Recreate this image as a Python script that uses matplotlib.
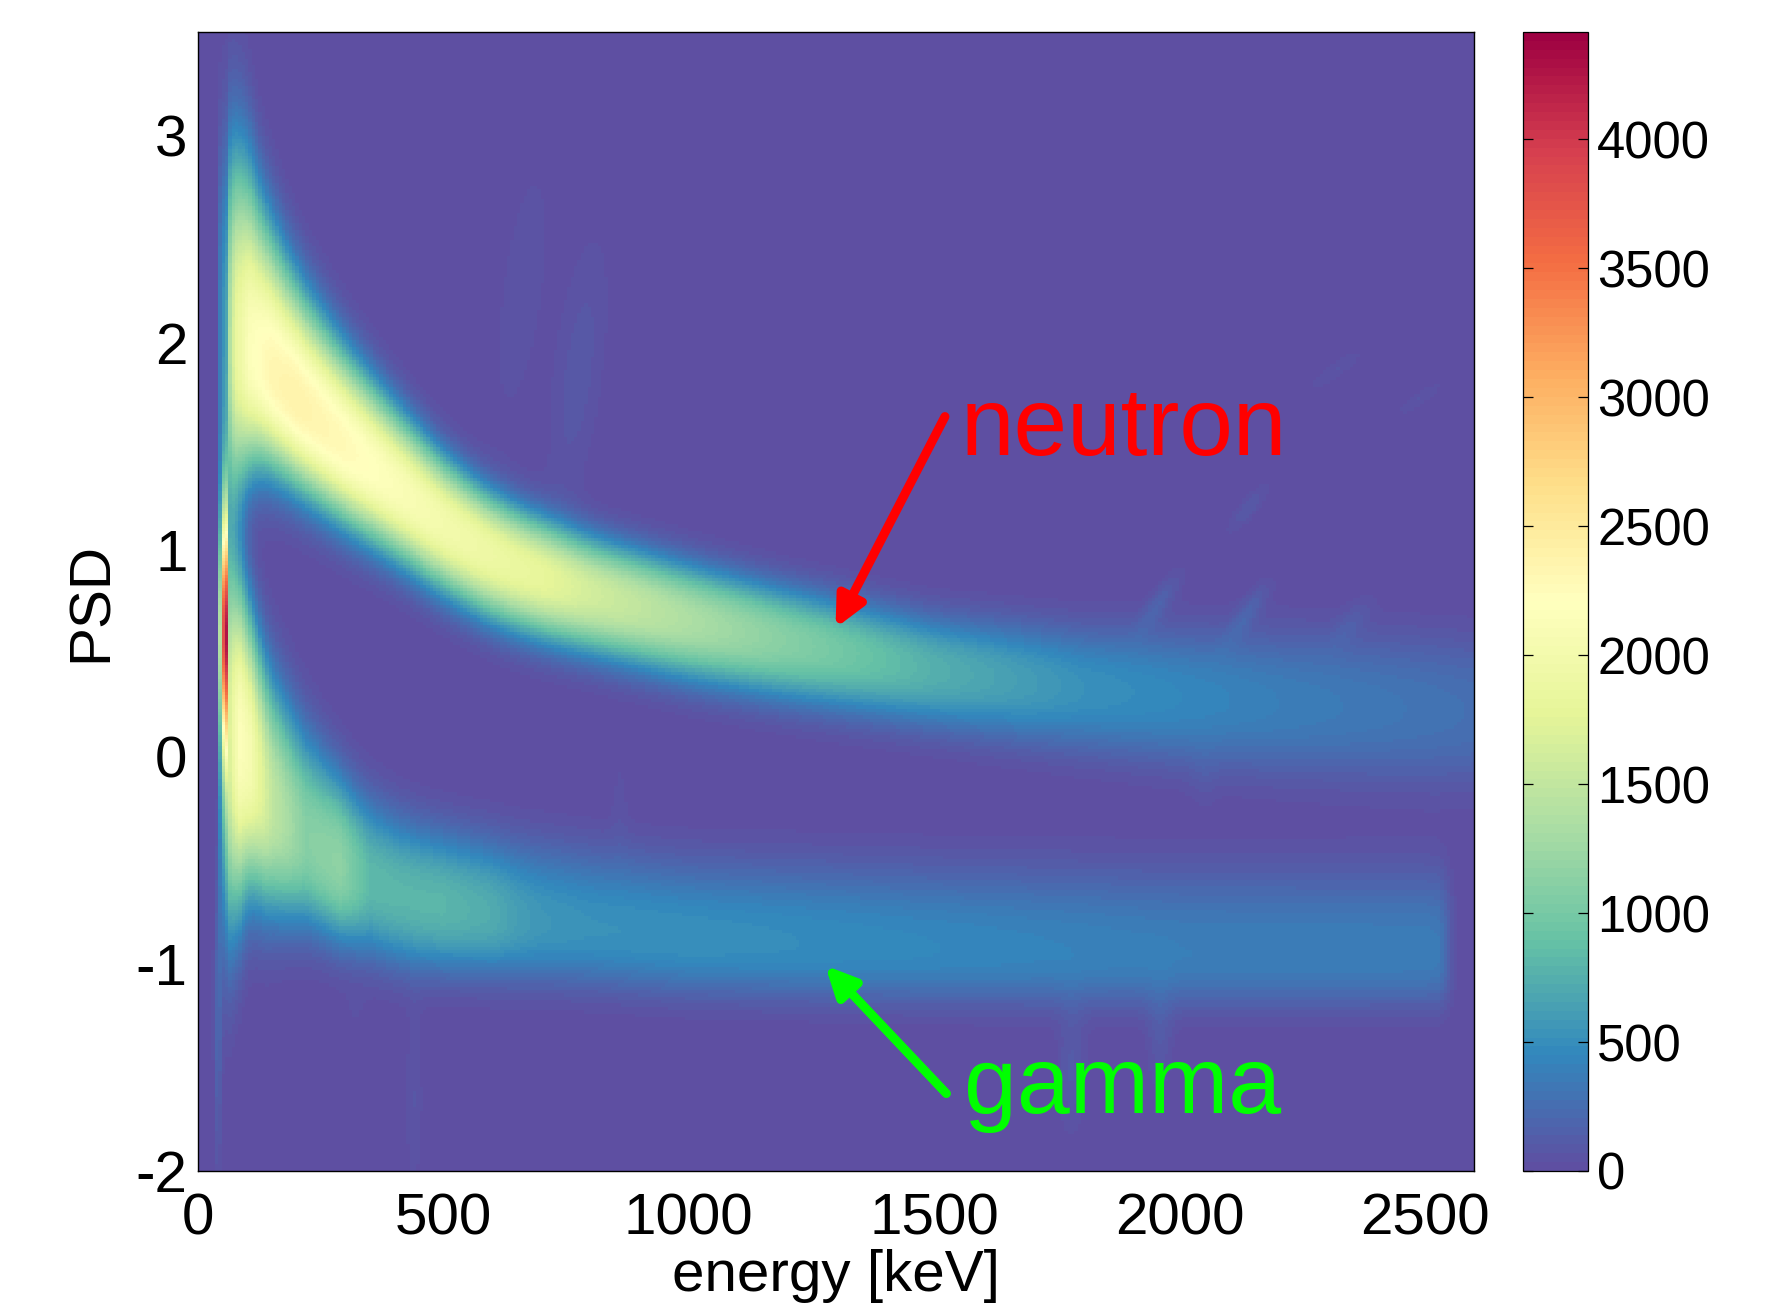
import numpy as np
import matplotlib
matplotlib.use("Agg")
import matplotlib.pyplot as plt

plt.rcParams['font.family'] = ['Liberation Sans', 'DejaVu Sans']

# Ridge readings of the two bands
n_energy = [38, 46, 58, 63, 75, 106, 150, 200, 300, 400, 500, 600, 700, 800, 1000, 1200, 1500, 1800, 2000, 2200, 2500, 2600]
n_center = [2.0, 2.0, 2.0, 2.0, 2.0, 1.95, 1.85, 1.72, 1.5, 1.31, 1.12, 0.97, 0.87, 0.79, 0.66, 0.56, 0.42, 0.33, 0.29, 0.26, 0.23, 0.22]
n_peak = [0, 450, 650, 1300, 1800, 2150, 2330, 2380, 2280, 2130, 2000, 1900, 1800, 1620, 1350, 1100, 750, 520, 450, 380, 300, 270]
n_up = [0.9, 0.9, 1.05, 1.1, 1.05, 0.78, 0.64, 0.53, 0.43, 0.36, 0.31, 0.28, 0.27, 0.26, 0.26, 0.25, 0.25, 0.28, 0.31, 0.33, 0.34, 0.34]
n_low = [0.9, 0.9, 0.9, 0.8, 0.65, 0.5, 0.44, 0.40, 0.36, 0.33, 0.31, 0.30, 0.29, 0.28, 0.28, 0.28, 0.27, 0.29, 0.31, 0.33, 0.35, 0.35]

g_energy = [38, 46, 58, 66, 85, 106, 150, 220, 290, 350, 420, 500, 600, 650, 700, 800, 1000, 1500, 2000, 2500, 2530, 2560, 2580, 2600]
g_center = [0.1, 0.1, 0.1, 0.2, 0.25, -0.05, -0.25, -0.4, -0.53, -0.6, -0.68, -0.72, -0.76, -0.78, -0.8, -0.83, -0.88, -0.93, -0.95, -0.95, -0.95, -0.95, -0.95, -0.95]
g_peak = [0, 500, 1200, 1800, 2150, 2050, 1500, 1100, 1150, 820, 800, 800, 720, 620, 560, 520, 510, 450, 380, 370, 350, 60, 0, 0]
g_up = [1.0, 1.0, 1.0, 0.8, 0.7, 0.65, 0.6, 0.5, 0.42, 0.38, 0.36, 0.35, 0.35, 0.35, 0.36, 0.36, 0.36, 0.38, 0.39, 0.39, 0.39, 0.39, 0.39, 0.39]
g_low = [1.2, 1.2, 1.0, 0.8, 0.7, 0.62, 0.5, 0.4, 0.36, 0.35, 0.33, 0.31, 0.29, 0.29, 0.28, 0.27, 0.26, 0.25, 0.25, 0.25, 0.25, 0.25, 0.25, 0.25]

# The narrow bright column at the low-energy edge
s_energy = [41, 45, 48, 58, 62, 65]
s_peak = [0, 1200, 3000, 3350, 1500, 0]
s_center = 0.63
s_width = 0.55

# Faint streaks and spots in the background
spot_energy = [660, 775, 2320, 2490, 2140, 1960, 2140, 2350, 1780, 1960, 440, 860, 590, 320, 2050, 40]
spot_psd = [2.25, 1.85, 1.87, 1.73, 1.2, 0.75, 0.7, 0.65, -1.5, -1.35, -1.65, -0.2, 3.3, -1.25, -0.1, -1.2]
spot_amp = [55, 90, 70, 70, 95, 140, 140, 75, 110, 100, 70, 40, 30, 30, 40, 220]
spot_ewidth = [55, 50, 26, 24, 24, 24, 24, 28, 28, 26, 18, 18, 30, 30, 28, 7]
spot_pwidth = [0.75, 0.65, 0.1, 0.08, 0.12, 0.14, 0.14, 0.12, 0.3, 0.25, 0.45, 0.3, 0.2, 0.12, 0.15, 0.75]
spot_slant = [50, 50, 500, 500, 300, 250, 250, 250, 0, 0, 0, 0, 0, 0, 0, 0]

x_ticks = [0, 500, 1000, 1500, 2000, 2500]
y_ticks = [-2, -1, 0, 1, 2, 3]
c_ticks = [0, 500, 1000, 1500, 2000, 2500, 3000, 3500, 4000]
vmax = 4415

edges_e = np.linspace(0, 2600, 381)
edges_p = np.linspace(-2, 3.5, 341)
centers_e = 0.5 * (edges_e[1:] + edges_e[:-1])
E, P = np.meshgrid(centers_e, 0.5 * (edges_p[1:] + edges_p[:-1]))


def soft(energy, values, bins=13):
    # Round off the corners between the readings so the band has no kinks
    line = np.interp(centers_e, energy, values)
    padded = np.pad(line, bins // 2, mode='edge')
    return np.convolve(padded, np.ones(bins) / bins, mode='valid')


def band(energy, center, peak, up, low, power=2.5):
    c = soft(energy, center)[None, :]
    a = np.interp(centers_e, energy, peak)[None, :]
    u = soft(energy, up)[None, :]
    l = soft(energy, low)[None, :]
    d = P - c
    w = np.where(d > 0, u, l)
    return a * np.exp(-np.abs(d / w) ** power)


Z = band(n_energy, n_center, n_peak, n_up, n_low) + band(g_energy, g_center, g_peak, g_up, g_low)
Z += np.interp(E, s_energy, s_peak, left=0, right=0) * np.exp(-((P - s_center) / s_width) ** 2)
for e0, p0, a0, we, wp, sl in zip(spot_energy, spot_psd, spot_amp, spot_ewidth, spot_pwidth, spot_slant):
    Z += a0 * np.exp(-((E - e0 - sl * (P - p0)) / we) ** 2 - ((P - p0) / wp) ** 2)

W, H = 1775, 1303
fig = plt.figure(figsize=(W / 100, H / 100), dpi=100)
ax = fig.add_axes([198 / W, (H - 1171) / H, 1276 / W, 1139 / H])
cax = fig.add_axes([1523 / W, (H - 1171) / H, 65 / W, 1139 / H])

cmap = plt.get_cmap('Spectral_r', 128)
mesh = ax.pcolormesh(edges_e, edges_p, Z, cmap=cmap, vmin=0, vmax=vmax, rasterized=True)
ax.set_xlim(0, 2600)
ax.set_ylim(-2, 3.5)
ax.set_xticks(x_ticks)
ax.set_yticks(y_ticks)
ax.tick_params(axis='both', length=0, labelsize=42)
ax.tick_params(axis='x', pad=15.5)
ax.tick_params(axis='y', pad=7.5)
ax.set_yticklabels([str(v) for v in y_ticks])
ax.set_xlabel('energy [keV]', fontsize=42, labelpad=2)
ax.set_ylabel('PSD', fontsize=42, labelpad=12)
for s in ax.spines.values():
    s.set_linewidth(1.0)

cb = fig.colorbar(mesh, cax=cax)
cb.set_ticks(c_ticks)
cb.ax.tick_params(length=7, width=0.9, direction='in', labelsize=36.5, pad=6.5, left=True, right=True)
cb.outline.set_linewidth(0.9)

ax.annotate('', xy=(1299, 0.622), xytext=(1522, 1.643),
            arrowprops=dict(arrowstyle='-|>,head_length=0.75,head_width=0.36', color='#ff0000', lw=6.5,
                            shrinkA=0, shrinkB=0, mutation_scale=24))
ax.annotate('', xy=(1278, -1.008), xytext=(1525, -1.626),
            arrowprops=dict(arrowstyle='-|>,head_length=0.75,head_width=0.36', color='#00ff00', lw=6.5,
                            shrinkA=0, shrinkB=0, mutation_scale=24))
ax.text(1555, 1.58, 'neutron', color='#ff0000', fontsize=69.3, va='center', ha='left')
ax.text(1560, -1.6, 'gamma', color='#00ff00', fontsize=68.5, va='center', ha='left')

fig.savefig('out.png', dpi=100)
